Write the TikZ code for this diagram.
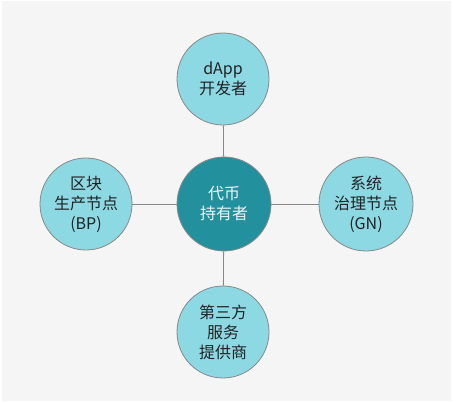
\documentclass[tikz,border=0pt]{standalone}
\usepackage{fontspec}
\setmainfont{Noto Sans CJK SC}
\definecolor{bgc}{HTML}{F5F5F5}
\definecolor{leaf}{HTML}{8DD9E3}
\definecolor{hub}{HTML}{23909E}
\definecolor{edge}{HTML}{888888}
\definecolor{txt}{HTML}{222222}
\begin{document}
\begin{tikzpicture}[x=1pt,y=-1pt,
  leafnode/.style={circle,draw=edge,line width=0.8pt,fill=leaf,minimum size=92pt,inner sep=0pt,
    align=center,text=txt,font=\fontsize{16}{20}\selectfont},
  hubnode/.style={circle,draw=edge,line width=0.8pt,fill=hub,minimum size=94pt,inner sep=0pt,
    align=center,text=white!92!hub,font=\fontsize{16}{20}\selectfont},
  link/.style={draw=edge,line width=0.8pt}]
\useasboundingbox (0,0) rectangle (453,403);
\fill[white] (0,0) rectangle (453,403);
\fill[bgc] (2,1) rectangle (451,401);
\node[hubnode] (hub) at (224,204) {代币\\持有者};
\node[leafnode] (top) at (223,79) {dApp\\开发者};
\node[leafnode] (left) at (86,204) {区块\\生产节点\\(BP)};
\node[leafnode,minimum size=94pt] (right) at (366,204) {系统\\治理节点\\(GN)};
\node[leafnode] (bottom) at (223,332) {第三方\\服务\\提供商};
\draw[link] (hub) -- (top);
\draw[link] (hub) -- (bottom);
\draw[link] (hub) -- (left);
\draw[link] (hub) -- (right);
\end{tikzpicture}
\end{document}
